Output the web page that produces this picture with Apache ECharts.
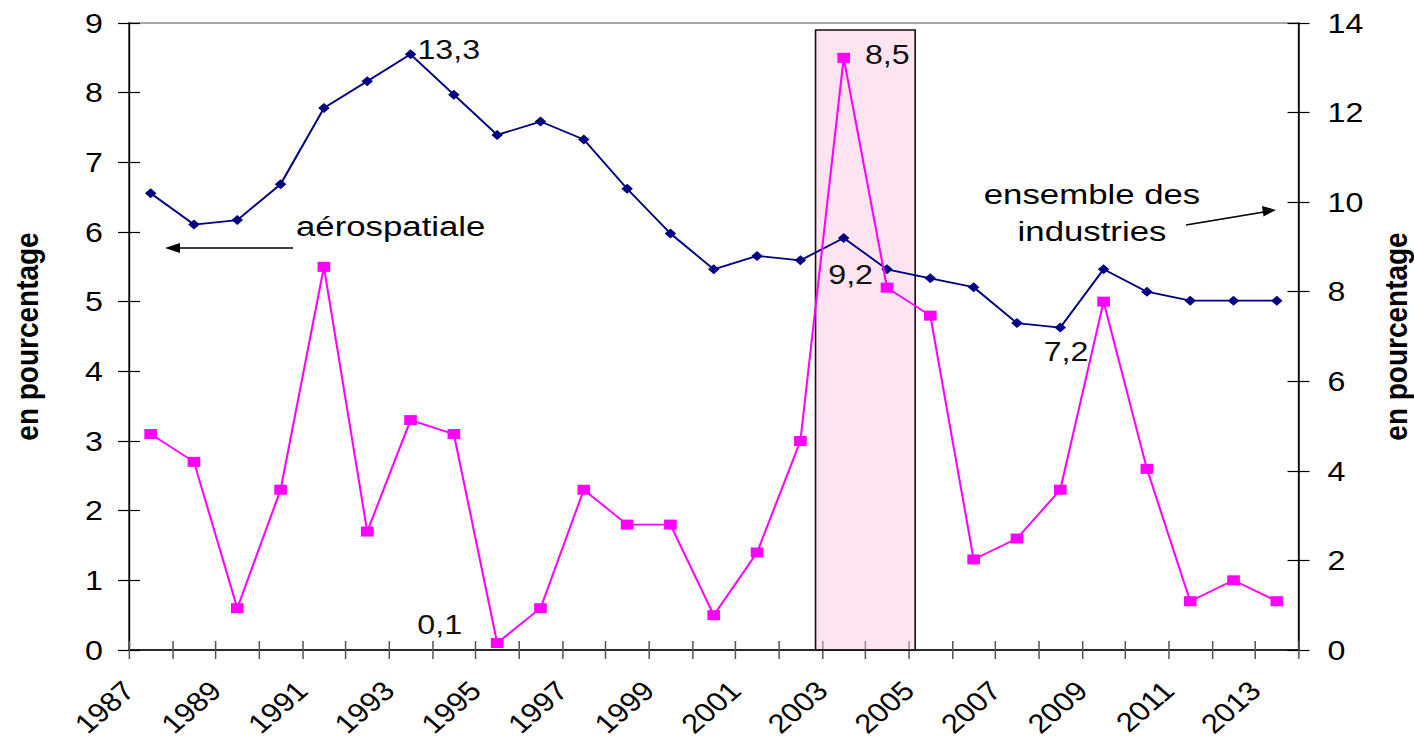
<!DOCTYPE html>
<html>
<head>
    <meta charset="UTF-8">
    <title>aerospatiale</title>
    <script src="https://cdn.jsdelivr.net/npm/echarts@6/dist/echarts.min.js"></script>
    <style>
        *{margin:0;padding:0}
        html, body{
            width:100%;
            height:100%;
            background:#fff;
            overflow:hidden;
        }
        /* le graphique d'origine est étiré horizontalement */
        #main{
            width:1229.6px;
            height:745px;
            transform: scaleX(1.15);
            transform-origin: 0 0;
        }
    </style>
</head>
<body>
    <div id="main"></div>
    <script type="text/javascript">
        // années
        var years = ['1987','1988','1989','1990','1991','1992','1993','1994','1995','1996','1997','1998','1999','2000',
                     '2001','2002','2003','2004','2005','2006','2007','2008','2009','2010','2011','2012','2013'];
        // aérospatiale (axe gauche)
        var aero = [3.1, 2.7, 0.6, 2.3, 5.5, 1.7, 3.3, 3.1, 0.1, 0.6, 2.3, 1.8, 1.8, 0.5,
                    1.4, 3.0, 8.5, 5.2, 4.8, 1.3, 1.6, 2.3, 5.0, 2.6, 0.7, 1.0, 0.7];
        // ensemble des industries (axe droit)
        var industries = [10.2, 9.5, 9.6, 10.4, 12.1, 12.7, 13.3, 12.4, 11.5, 11.8, 11.4, 10.3, 9.3, 8.5,
                          8.8, 8.7, 9.2, 8.5, 8.3, 8.1, 7.3, 7.2, 8.5, 8.0, 7.8, 7.8, 7.8];
        // années étiquetées sur l'axe
        var tickYears = [1987, 1989, 1991, 1993, 1995, 1997, 1999, 2001, 2003, 2005, 2007, 2009, 2011, 2013];
        // valeurs affichées
        var aeroLabels = ['1995', '2003'];
        var indLabels = ['1993', '2003', '2008'];

        var S = 1.15; // étirement horizontal (voir css)
        function sx (x) { return x / S; }

        var FONT = '"Liberation Sans", Arial, sans-serif';
        var myChart = echarts.init(document.getElementById('main'), null, {renderer: 'svg'});

        function fmt (v) {
            return String(v).replace('.', ',');
        }

        var aeroLabelStyle = {
            '1995': {position: 'left', offset: [-20, -19]},
            '2003': {position: 'right', offset: [8, -4]}
        };
        var indLabelStyle = {
            '1993': {position: 'right', offset: [-4, -5]},
            '2003': {position: 'bottom', offset: [6, 12]},
            '2008': {position: 'bottom', offset: [5, 0]}
        };

        function buildData (values, names, styles) {
            return values.map(function (v, i) {
                var item = {value: v};
                if (names.indexOf(years[i]) >= 0) {
                    var s = styles[years[i]];
                    item.label = {
                        show: true,
                        position: s.position,
                        offset: s.offset,
                        formatter: function (p) { return fmt(p.value); },
                        fontSize: 28,
                        fontFamily: FONT,
                        color: '#111'
                    };
                }
                return item;
            });
        }

        var axisText = {fontSize: 28, fontFamily: FONT, color: '#000'};
        var nameText = {fontSize: 28, fontWeight: 'bold', fontFamily: FONT, color: '#000'};

        option = {
            animation: false,
            grid: {
                left: sx(129), right: sx(116), top: 23, bottom: 95,
                outerBoundsMode: 'none',
                containLabel: false,
                show: true,
                borderColor: '#8c8c8c',
                borderWidth: 1.5
            },
            xAxis: [
                {
                    type: 'category',
                    data: years,
                    boundaryGap: true,
                    position: 'bottom',
                    show: false
                },
                {
                    type: 'value',
                    position: 'bottom',
                    min: 1987, max: 2014, interval: 1,
                    splitLine: {show: false},
                    axisLine: {lineStyle: {color: '#000', width: 1.5}},
                    axisTick: {length: 9, lineStyle: {color: '#555', width: 1.3}},
                    axisLabel: {
                        rotate: 45,
                        margin: 36,
                        fontSize: 27,
                        fontFamily: FONT,
                        color: '#000',
                        formatter: function (v) {
                            return tickYears.indexOf(v) >= 0 ? String(v) : '';
                        }
                    }
                },
                {
                    type: 'value',
                    position: 'bottom',
                    min: 1987, max: 2014, interval: 1,
                    splitLine: {show: false},
                    axisLine: {show: false},
                    axisTick: {inside: true, length: 9, lineStyle: {color: '#555', width: 1.3}},
                    axisLabel: {show: false}
                }
            ],
            yAxis: [
                {
                    type: 'value',
                    position: 'left',
                    min: 0, max: 9, interval: 1,
                    name: 'en pourcentage',
                    nameLocation: 'middle',
                    nameRotate: 90,
                    nameGap: 75,
                    nameTextStyle: nameText,
                    splitLine: {show: false},
                    axisLine: {show: true, lineStyle: {color: '#000', width: 1.4}},
                    axisTick: {show: true, length: sx(11), lineStyle: {color: '#000', width: 1.2}},
                    axisLabel: Object.assign({margin: sx(26)}, axisText)
                },
                {
                    type: 'value',
                    position: 'right',
                    min: 0, max: 14, interval: 2,
                    name: 'en pourcentage',
                    nameLocation: 'middle',
                    nameRotate: 90,
                    nameGap: 71,
                    nameTextStyle: nameText,
                    splitLine: {show: false},
                    axisLine: {show: true, lineStyle: {color: '#000', width: 1.4}},
                    axisTick: {show: true, length: sx(11), lineStyle: {color: '#000', width: 1.2}},
                    axisLabel: Object.assign({margin: sx(29)}, axisText)
                },
                {
                    type: 'value',
                    position: 'left',
                    min: 0, max: 9, interval: 1,
                    splitLine: {show: false},
                    axisLine: {show: false},
                    axisTick: {show: true, inside: true, length: sx(11), lineStyle: {color: '#000', width: 1.2}},
                    axisLabel: {show: false}
                },
                {
                    type: 'value',
                    position: 'right',
                    min: 0, max: 14, interval: 2,
                    splitLine: {show: false},
                    axisLine: {show: false},
                    axisTick: {show: true, inside: true, length: sx(11), lineStyle: {color: '#000', width: 1.2}},
                    axisLabel: {show: false}
                }
            ],
            series: [
                {
                    // rectangle de mise en évidence 2003-2004
                    type: 'line',
                    xAxisIndex: 1,
                    yAxisIndex: 0,
                    data: [],
                    z: 1,
                    silent: true,
                    markArea: {
                        silent: true,
                        itemStyle: {
                            color: 'rgba(250, 195, 222, 0.45)',
                            borderColor: '#111',
                            borderWidth: 1.4
                        },
                        data: [[{coord: [2002.85, 8.9]}, {coord: [2005.15, -0.03]}]]
                    }
                },
                {
                    name: 'ensemble des industries',
                    type: 'line',
                    xAxisIndex: 0,
                    yAxisIndex: 1,
                    z: 3,
                    symbol: 'diamond',
                    symbolSize: [10, 10],
                    lineStyle: {color: '#000080', width: 1.8},
                    itemStyle: {color: '#000080'},
                    data: buildData(industries, indLabels, indLabelStyle)
                },
                {
                    name: 'aérospatiale',
                    type: 'line',
                    xAxisIndex: 0,
                    yAxisIndex: 0,
                    z: 4,
                    symbol: 'rect',
                    symbolSize: [11, 10],
                    lineStyle: {color: '#ff00ff', width: 1.8},
                    itemStyle: {color: '#ff00ff'},
                    data: buildData(aero, aeroLabels, aeroLabelStyle)
                }
            ],
            graphic: [
                {
                    type: 'text', x: sx(296), y: 212, scaleX: 1.08,
                    style: {text: 'aérospatiale', fontSize: 28, fontFamily: FONT, fill: '#000'}
                },
                {
                    type: 'line',
                    shape: {x1: sx(293), y1: 248, x2: sx(177), y2: 248},
                    style: {stroke: '#000', lineWidth: 1.5}
                },
                {
                    type: 'polygon',
                    shape: {points: [[sx(165), 248], [sx(180), 243], [sx(180), 253]]},
                    style: {fill: '#000'}
                },
                {
                    type: 'text', x: sx(1092), y: 176, scaleX: 1.08,
                    style: {
                        text: 'ensemble des\nindustries', fontSize: 28, fontFamily: FONT, fill: '#000',
                        align: 'center', lineHeight: 37
                    }
                },
                {
                    type: 'line',
                    shape: {x1: sx(1186), y1: 225, x2: sx(1264), y2: 212},
                    style: {stroke: '#000', lineWidth: 1.5}
                },
                {
                    type: 'polygon',
                    shape: {points: [[sx(1276), 210], [sx(1262), 206], [sx(1263.5), 216.5]]},
                    style: {fill: '#000'}
                }
            ]
        };
        myChart.setOption(option);
    </script>
</body>
</html>
